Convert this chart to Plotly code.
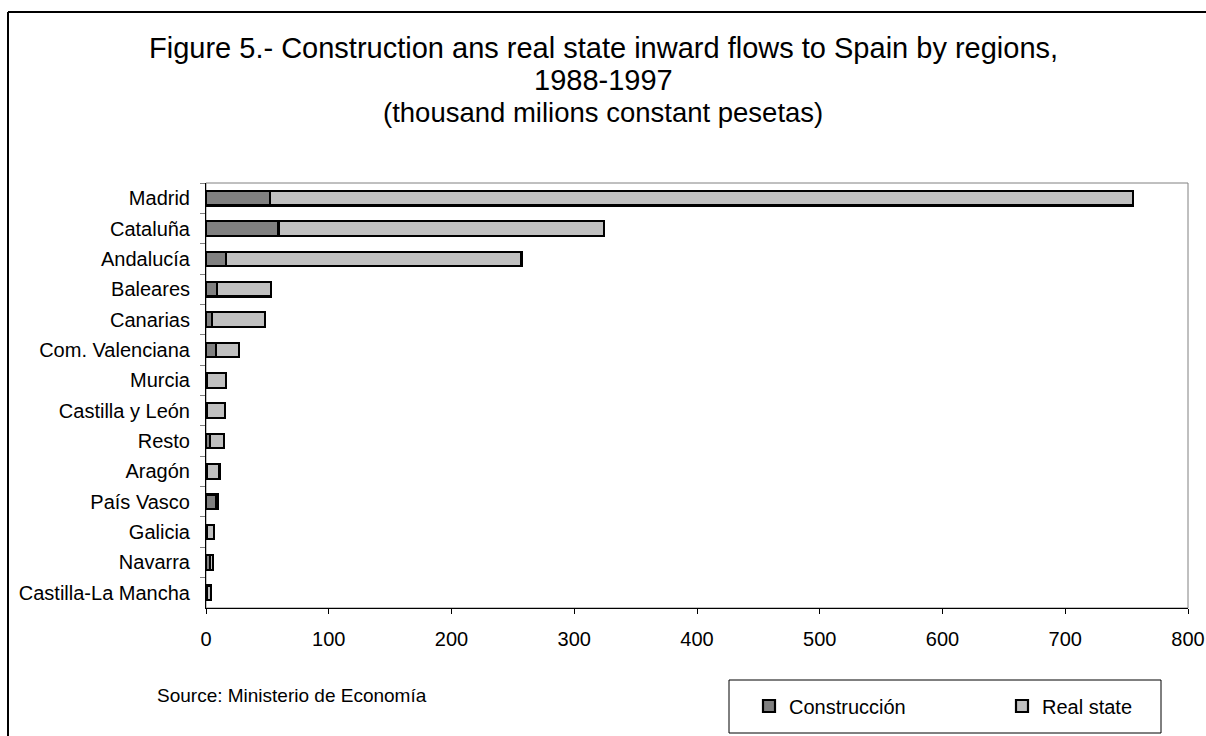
import plotly.graph_objects as go

regions = ["Madrid", "Cataluña", "Andalucía", "Baleares", "Canarias", "Com. Valenciana",
           "Murcia", "Castilla y León", "Resto", "Aragón", "País Vasco", "Galicia",
           "Navarra", "Castilla-La Mancha"]
construccion = [52, 59, 16, 9, 5, 8, 0.5, 0.5, 3, 0.5, 8, 1, 3.5, 0.5]
total = [755, 324, 257, 53, 48, 27, 16, 15.5, 14.5, 11, 10, 6.5, 6, 4]
real_state = [t - c for t, c in zip(total, construccion)]
x_ticks = [0, 100, 200, 300, 400, 500, 600, 700, 800]
title_lines = ["Figure 5.- Construction ans real state inward flows to Spain by regions,",
               "1988-1997", "(thousand milions constant pesetas)"]

W, H = 1206, 736
L, R, T, B = 206, 18, 183, 128
PW, PH = W - L - R, H - T - B

def px(x):
    return (x - L) / PW

def py(y):
    return (H - B - y) / PH

FONT = "Liberation Sans, Arial, sans-serif"

fig = go.Figure()
fig.add_trace(go.Bar(y=regions, x=construccion, orientation="h", name="Construcción",
                     marker=dict(color="#808080", line=dict(color="black", width=2.2))))
fig.add_trace(go.Bar(y=regions, x=real_state, orientation="h", name="Real state",
                     marker=dict(color="#C0C0C0", line=dict(color="black", width=2.2))))

annotations = []
for line, yc, fs in zip(title_lines, [48, 80, 112], [29, 29, 27.5]):
    annotations.append(dict(text=line, xref="paper", yref="paper", x=px(603), y=py(yc),
                            xanchor="center", yanchor="middle", showarrow=False,
                            font=dict(size=fs, family=FONT)))
annotations.append(dict(text="Source: Ministerio de Economía", xref="paper", yref="paper",
                        x=px(155), y=py(695), xanchor="left", yanchor="middle", showarrow=False,
                        font=dict(size=19, family=FONT)))

fig.update_layout(
    width=W, height=H,
    barmode="stack", bargap=0.52,
    plot_bgcolor="white", paper_bgcolor="white",
    margin=dict(l=L, r=R, t=T, b=B, autoexpand=False),
    font=dict(family=FONT, color="black", size=20),
    xaxis=dict(range=[0, 800], tickvals=x_ticks, showgrid=False, zeroline=False,
               showline=True, linecolor="black", linewidth=1,
               ticks="outside", ticklen=5, tickcolor="black", ticklabelstandoff=8,
               tickfont=dict(size=20, family=FONT)),
    yaxis=dict(categoryorder="array", categoryarray=regions, autorange="reversed",
               showgrid=False, showline=True, linecolor="black", linewidth=1,
               ticks="outside", ticklen=5, tickcolor="gray", tickson="boundaries",
               ticklabelstandoff=11, tickfont=dict(size=20, family=FONT)),
    legend=dict(orientation="h", x=px(749), y=py(706), xanchor="left", yanchor="middle",
                borderwidth=0, bgcolor="rgba(0,0,0,0)",
                font=dict(size=20, family=FONT), entrywidth=208,
                traceorder="normal"),
    shapes=[
        dict(type="rect", xref="paper", yref="paper", x0=0, x1=1, y0=0, y1=1,
             line=dict(color="#808080", width=1), layer="below"),
        dict(type="line", xref="paper", yref="paper", x0=px(8), x1=px(1210), y0=py(12), y1=py(12),
             line=dict(color="black", width=2)),
        dict(type="line", xref="paper", yref="paper", x0=px(8), x1=px(8), y0=py(12), y1=py(740),
             line=dict(color="black", width=2)),
        dict(type="rect", xref="paper", yref="paper", x0=px(729), x1=px(1161), y0=py(680), y1=py(733),
             line=dict(color="black", width=1), fillcolor="white", layer="below"),
    ],
    annotations=annotations,
)

fig.write_html("out.html")
